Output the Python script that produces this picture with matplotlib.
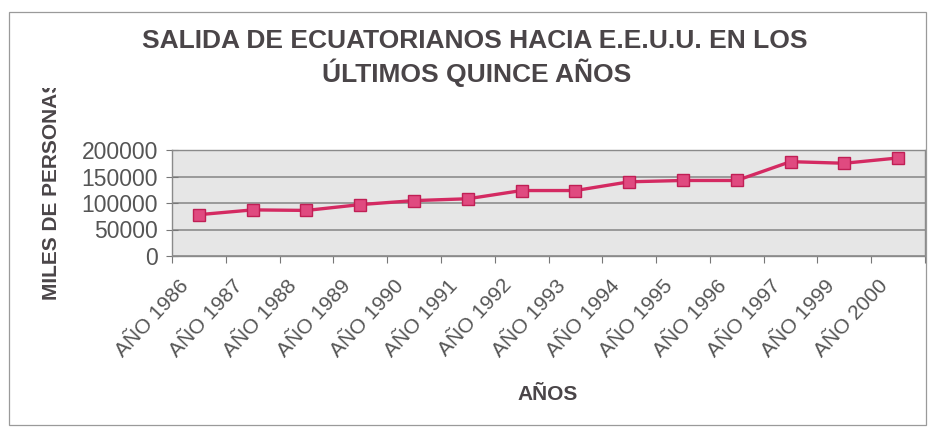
import numpy as np
import matplotlib.pyplot as plt
import matplotlib.transforms as mtrans
from matplotlib.patches import Rectangle

# data
years = ['AÑO 1986', 'AÑO 1987', 'AÑO 1988', 'AÑO 1989', 'AÑO 1990', 'AÑO 1991', 'AÑO 1992',
         'AÑO 1993', 'AÑO 1994', 'AÑO 1995', 'AÑO 1996', 'AÑO 1997', 'AÑO 1999', 'AÑO 2000']
salidas = [78000, 87000, 86000, 97000, 104500, 108000, 123500,
           123500, 140000, 142500, 142500, 178000, 175000, 185000]
yticks = [0, 50000, 100000, 150000, 200000]

plt.rcParams['font.family'] = ['Liberation Sans', 'DejaVu Sans']
txt = '#4a4548'

fig = plt.figure(figsize=(9.31, 4.34), dpi=100)
fig.patch.set_facecolor('white')

# outer chart border
fig.patches.append(Rectangle((9/931, 9/434), 917/931, 413/434, transform=fig.transFigure,
                             fill=False, edgecolor='#9a9a9a', linewidth=0.9))

ax = fig.add_axes([172/931, 1 - 256/434, 753/931, 106/434])
ax.set_facecolor('#e6e6e6')

x = np.arange(len(years))
ax.plot(x, salidas, color='#d42a62', linewidth=2.4, marker='s', markersize=9,
        markerfacecolor='#e04a80', markeredgecolor='#c01f55', zorder=3)

ax.set_xlim(-0.5, len(years) - 0.5)
ax.set_ylim(0, 200000)
ax.set_yticks(yticks)
ax.set_yticklabels([str(v) for v in yticks], fontsize=16.5, color='#555555')
ax.yaxis.grid(True, color='#858585', linewidth=1.1)
ax.set_axisbelow(True)
ax.tick_params(axis='y', length=8, direction='inout', color='#777777', pad=6)

ax.set_xticks(np.arange(len(years) + 1) - 0.5)
ax.set_xticklabels([])
ax.set_xticks(x, minor=True)
ax.set_xticklabels(years, minor=True, rotation=47, ha='right', va='center',
                   rotation_mode='anchor', fontsize=15, color='#555555')
ax.tick_params(axis='x', which='major', length=5, color='#777777')
ax.tick_params(axis='x', which='minor', length=0, pad=19)
shift = mtrans.ScaledTranslation(-13/100, 0, fig.dpi_scale_trans)
for lab in ax.xaxis.get_minorticklabels():
    lab.set_transform(lab.get_transform() + shift)

for s in ax.spines.values():
    s.set_color('#8a8a8a')
    s.set_linewidth(1.0)

fig.text(475/931, 1 - 41/434, 'SALIDA DE ECUATORIANOS HACIA E.E.U.U. EN LOS',
         ha='center', va='center', fontsize=19, fontweight='bold', color=txt)
fig.text(477/931, 1 - 73/434, 'ÚLTIMOS QUINCE AÑOS',
         ha='center', va='center', fontsize=19, fontweight='bold', color=txt)

ylab = fig.text(52/931, 1 - 300/434, 'MILES DE PERSONAS', rotation=90,
                ha='center', va='bottom', fontsize=15, fontweight='bold', color=txt)
ylab.set_clip_path(Rectangle((0, 0), 1, 1 - 88/434, transform=fig.transFigure))

fig.text(548/931, 1 - 395/434, 'AÑOS', ha='center', va='center',
         fontsize=15, fontweight='bold', color=txt)

fig.savefig('out.png', dpi=100)
